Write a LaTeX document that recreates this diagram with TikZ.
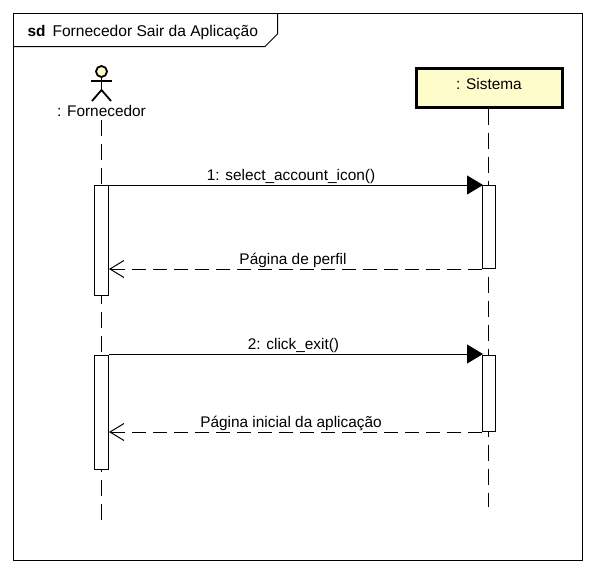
\documentclass[tikz,border=0pt]{standalone}
\usepackage{fontspec}
\setmainfont{Liberation Sans}
\usetikzlibrary{calc, arrows.meta}

\begin{document}
\begin{tikzpicture}[x=1pt, y=-1pt, line width=1pt,
  lifeline/.style={dash pattern=on 16pt off 8pt},
  bar/.style={draw, fill=white, inner sep=0pt, minimum width=14pt},
  callmsg/.style={-{Triangle[length=16pt, width=19pt]}, shorten >=-1pt},
  replymsg/.style={dash pattern=on 14pt off 7pt, -{Straight Barb[length=14pt, width=17pt]}},
  msglabel/.style={font=\fontsize{15.4}{18}\selectfont, inner sep=0pt},
  toplabel/.style={msglabel, midway, anchor=base, yshift=5pt},
]
  \useasboundingbox (0,0) rectangle (596,573);
  \fill[white] (0,0) rectangle (596,573);
  \draw (13.5,13.5) rectangle (582.5,560.5);
  % aba do quadro
  \draw (13.5,46.5) -- (265,46.5) -- (277.5,34) -- (277.5,13.5);
  \node[msglabel, anchor=base west] (sd) at (27,36.5) {\textbf{sd}};
  \node[msglabel, anchor=base west, font=\fontsize{15.6}{18}\selectfont] (title) at (52,36.5) {Fornecedor Sair da Aplicação};

  % ator
  \node[draw, circle, fill=yellow!20, line width=1.8pt, minimum size=11pt, inner sep=0pt] (head) at (101.5,71.5) {};
  \coordinate (hip) at (101.5,90);
  \draw[line width=1.8pt] (head.south) -- (hip);
  \draw[line width=1.8pt] (91,81) -- (112,81);
  \draw[line width=1.8pt] (92,101) -- (hip) -- (111,101);
  \node[msglabel, anchor=base] (actor) at (101.5,116) {: Fornecedor};

  % sistema
  \node[draw, fill=yellow!20, line width=3pt, minimum width=146pt, minimum height=39pt, inner sep=0pt, msglabel] (sys) at (489,87.5) {\raisebox{7pt}{: Sistema}};

  \coordinate (actorend) at (101.5,520);
  \coordinate (sysend) at (488.5,507);
  \coordinate (actortop) at (101.5,120);
  \draw[lifeline] (actortop) -- (actorend);
  \draw[lifeline] (sys.south -| sysend) -- (sysend);

  % ativacoes
  \node[bar, minimum height=110pt] (a1) at (101.5,240.5) {};
  \node[bar, minimum height=114pt] (a2) at (101.5,412.5) {};
  \node[bar, minimum width=13pt, minimum height=83pt] (s1) at (489,227) {};
  \node[bar, minimum width=13pt, minimum height=76pt] (s2) at (489,393.5) {};

  % mensagens
  \draw[callmsg] (a1.north east) -- (s1.north west) node[toplabel, xshift=-4.5pt] (m1) {1: select\_account\_icon()};
  \draw[replymsg] (s1.south west) -- (s1.south west -| a1.east) node[toplabel, xshift=-2.5pt] (m2) {Página de perfil};
  \draw[callmsg] ($(a2.north east)+(0,-1)$) -- ($(s2.north west)+(0,-1)$) node[toplabel, xshift=-2pt] (m3) {2: click\_exit()};
  \draw[replymsg] (s2.south west) -- (s2.south west -| a2.east) node[toplabel, xshift=-4.5pt] (m4) {Página inicial da aplicação};
\end{tikzpicture}
\end{document}
